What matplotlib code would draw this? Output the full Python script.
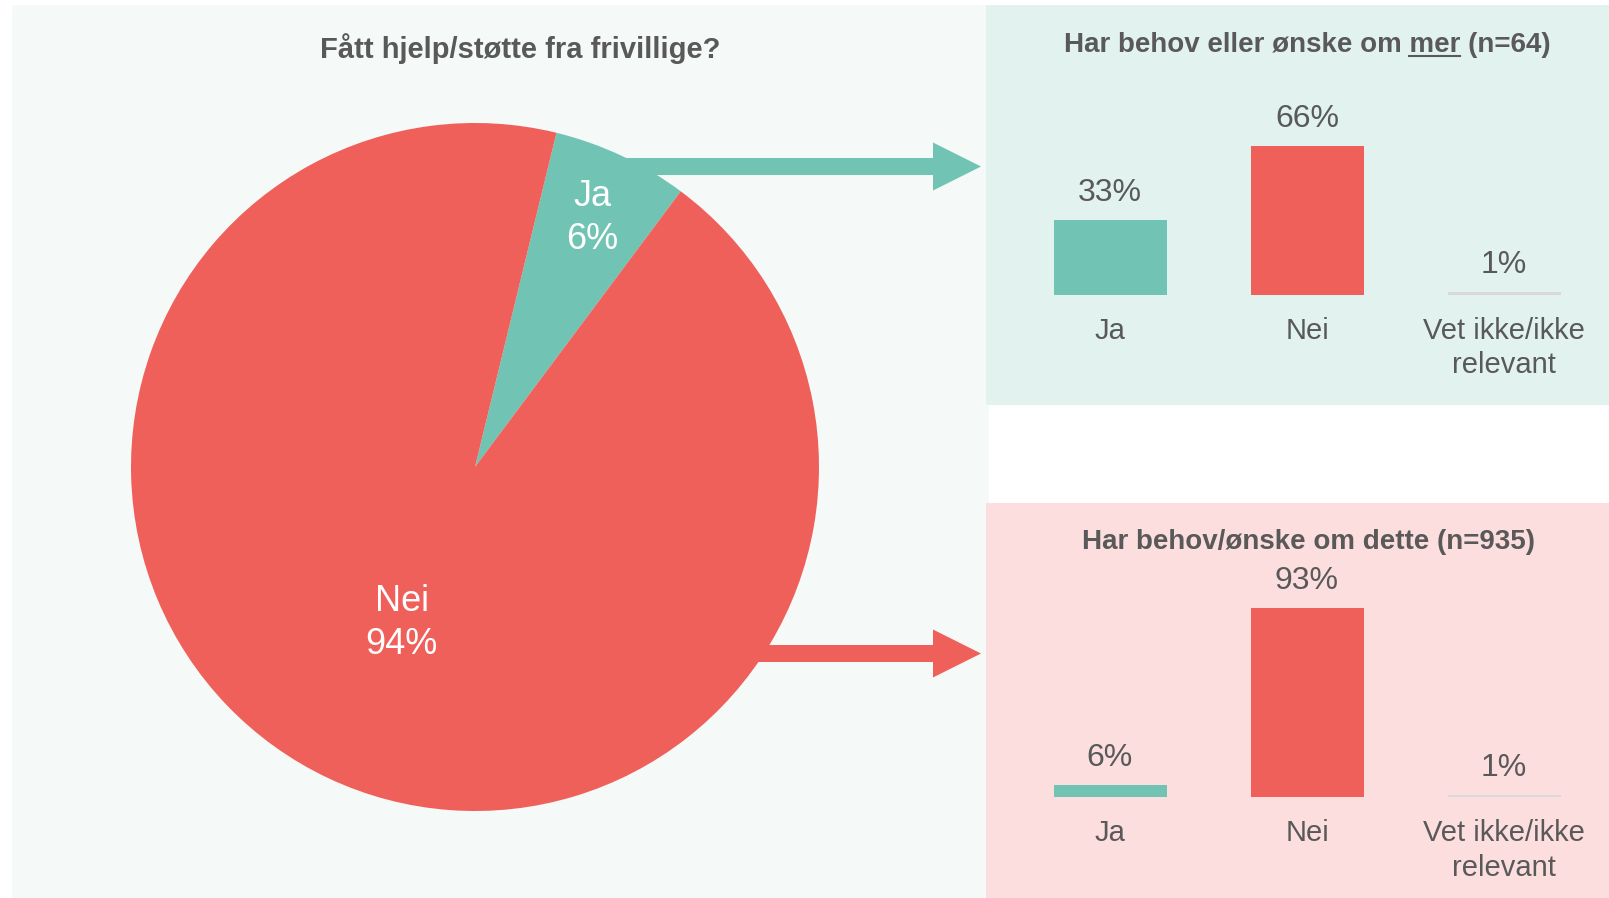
import matplotlib
matplotlib.use("Agg")
import numpy as np
import matplotlib.pyplot as plt
from matplotlib.patches import Rectangle, Polygon
from matplotlib.lines import Line2D

# ---------------- data ----------------
pie_labels = ["Ja", "Nei"]
pie_values = [6.4, 93.6]

categories = ["Ja", "Nei", "Vet ikke/ikke\nrelevant"]
more_values = [33, 66, 1]      # Har behov eller ønske om mer (n=64)
need_values = [6, 93, 1]       # Har behov/ønske om dette (n=935)

title_left = "Fått hjelp/støtte fra frivillige?"
title_more_prefix = "Har behov eller ønske om "
title_more_word = "mer"
title_more_suffix = " (n=64)"
title_need = "Har behov/ønske om dette (n=935)"

# ---------------- style ----------------
W, H = 1609, 898
TEAL = "#71C4B4"
RED = "#F0605A"
GRAY_BAR = "#D9D9D9"
TXT = "#595959"
BG_LEFT = "#F5F9F8"
BG_TEAL = "#E2F2EF"
BG_PINK = "#FDDEDF"

plt.rcParams['font.family'] = ['Liberation Sans', 'DejaVu Sans']

fig = plt.figure(figsize=(W / 100, H / 100), dpi=100)
fig.patch.set_facecolor("white")


def fx(x):
    return x / W


def fy(y):
    return 1 - y / H


def rect(x0, y0, x1, y1, color, z):
    fig.add_artist(Rectangle((fx(x0), fy(y1)), (x1 - x0) / W, (y1 - y0) / H,
                             transform=fig.transFigure, facecolor=color,
                             edgecolor="none", lw=0, zorder=z))


def arrow(x0, xh, x1, yc, hs, hh, color):
    pts = [(x0, yc - hs), (xh, yc - hs), (xh, yc - hh), (x1, yc),
           (xh, yc + hh), (xh, yc + hs), (x0, yc + hs)]
    pts = [(fx(px), fy(py)) for px, py in pts]
    fig.add_artist(Polygon(pts, closed=True, transform=fig.transFigure,
                           facecolor=color, edgecolor="none", zorder=-5))


# backgrounds
rect(12, 5, 989, 898, BG_LEFT, -10)
rect(986, 5, 1609, 405, BG_TEAL, -9)
rect(986, 503, 1609, 898, BG_PINK, -9)

# arrows
arrow(600, 933, 981, 166.5, 8.5, 24, TEAL)
arrow(700, 933, 981, 653.5, 8.5, 24, RED)

# ---------------- pie ----------------
cx, cy, R = 475, 467, 344
axp = fig.add_axes([fx(cx - R), fy(cy + R), 2 * R / W, 2 * R / H])
wedges, _ = axp.pie(pie_values, colors=[TEAL, RED], startangle=76.3,
                    counterclock=False, radius=1,
                    wedgeprops=dict(linewidth=0))
axp.set_xlim(-1, 1)
axp.set_ylim(-1, 1)
axp.set_aspect("equal")
axp.axis("off")
label_r = [0.80, 0.50]
for w, lab, v, r in zip(wedges, pie_labels, pie_values, label_r):
    ang = np.deg2rad((w.theta1 + w.theta2) / 2)
    axp.text(r * np.cos(ang), r * np.sin(ang), f"{lab}\n{v:.0f}%",
             ha="center", va="center", color="white", fontsize=26,
             linespacing=1.3)

fig.text(fx(520), fy(58), title_left, ha="center", va="baseline",
         fontsize=21, fontweight="bold", color=TXT)


# ---------------- bar panels ----------------
def bar_panel(baseline_y, px_per_pct, values):
    left = 1110 - 197 / 2
    ax = fig.add_axes([fx(left), fy(baseline_y), 3 * 197 / W,
                       100 * px_per_pct / H])
    ax.bar(range(len(values)), values, width=113 / 197,
           color=[TEAL, RED, GRAY_BAR], linewidth=0)
    ax.set_xlim(-0.5, 2.5)
    ax.set_ylim(0, 100)
    ax.axis("off")
    for i, v in enumerate(values):
        ax.annotate(f"{v}%", (i, v), xytext=(0, 19.5), textcoords="offset points",
                    ha="center", va="center", fontsize=23, color=TXT,
                    annotation_clip=False)
    for i, c in enumerate(categories):
        ax.annotate(c, (i, 0), xytext=(0, -16), textcoords="offset points",
                    ha="center", va="top", fontsize=21, color=TXT,
                    linespacing=1.3, annotation_clip=False)
    return ax


bar_panel(294.5, 2.25, more_values)
bar_panel(797, 2.03, need_values)

t_more = fig.text(fx(1307), fy(52),
                  title_more_prefix + title_more_word + title_more_suffix,
                  ha="center", va="baseline", fontsize=20, fontweight="bold",
                  color=TXT)
fig.text(fx(1308), fy(549), title_need, ha="center", va="baseline",
         fontsize=20, fontweight="bold", color=TXT)

# underline "mer"
fig.canvas.draw()
renderer = fig.canvas.get_renderer()
bb = t_more.get_window_extent(renderer)
tmp = fig.text(0, 0, title_more_prefix + title_more_word, fontsize=20,
               fontweight="bold")
w1 = tmp.get_window_extent(renderer).width
tmp.set_text(title_more_word)
w2 = tmp.get_window_extent(renderer).width
tmp.remove()
x_end = bb.x0 + w1
x_start = x_end - w2
fig.add_artist(Line2D([x_start / W, x_end / W], [fy(56), fy(56)],
                      transform=fig.transFigure, color=TXT, lw=1.5))

fig.savefig("out.png", dpi=100, facecolor="white")
